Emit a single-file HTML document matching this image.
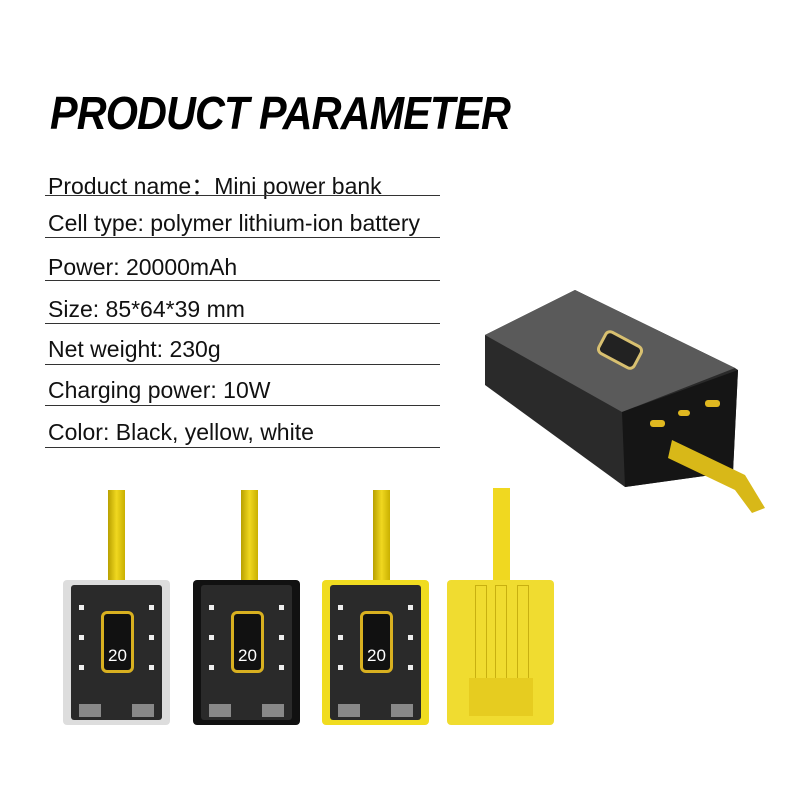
<!DOCTYPE html>
<html><head><style>
body{margin:0;width:800px;height:800px;background:#fff;position:relative;overflow:hidden;font-family:"Liberation Sans",sans-serif}
.t{position:absolute;left:50px;top:86px;font-size:46px;font-weight:bold;font-style:italic;letter-spacing:-1px;transform:scaleX(0.9);transform-origin:left}
.r{position:absolute;left:48px;font-size:23px;color:#111}
.l{position:absolute;left:45px;width:395px;height:1px;background:#333}
.s{position:absolute;width:17px;background:linear-gradient(90deg,#b8a000,#f0d820,#c9b000)}
.b{position:absolute;width:107px;height:145px;border-radius:4px}
.pcb{position:absolute;left:8px;top:5px;right:8px;bottom:5px;background:#2a2a2a;border-radius:3px}
.scr{position:absolute;left:30px;top:26px;width:27px;height:56px;border:3px solid #d8b020;border-radius:6px;background:#111;color:#fff;font-size:17px;text-align:center;line-height:84px}
.usb{position:absolute;bottom:3px;width:22px;height:13px;background:#888}
.d{position:absolute;width:5px;height:5px;background:#eee}
</style></head><body>
<div class="t">PRODUCT PARAMETER</div>
<div class="r" style="top:167px">Product name：Mini power bank</div><div class="l" style="top:195px"></div>
<div class="r" style="top:210px">Cell type: polymer lithium-ion battery</div><div class="l" style="top:237px"></div>
<div class="r" style="top:254px">Power: 20000mAh</div><div class="l" style="top:280px"></div>
<div class="r" style="top:296px">Size: 85*64*39 mm</div><div class="l" style="top:323px"></div>
<div class="r" style="top:336px">Net weight: 230g</div><div class="l" style="top:364px"></div>
<div class="r" style="top:377px">Charging power: 10W</div><div class="l" style="top:405px"></div>
<div class="r" style="top:419px">Color: Black, yellow, white</div><div class="l" style="top:447px"></div>

<svg style="position:absolute;left:0;top:0" width="800" height="800">
<polygon points="485,335 575,290 735,368 738,370 733,472 625,487 485,385" fill="#2a2a2a"/>
<polygon points="485,335 575,290 735,368 622,412" fill="#5a5a5a"/>
<polygon points="622,412 738,370 733,472 625,487" fill="#151515"/>
<rect x="600" y="338" width="40" height="24" rx="5" fill="#222" stroke="#d8c070" stroke-width="3" transform="rotate(28 620 350)"/>
<rect x="650" y="420" width="15" height="7" rx="3" fill="#e0b820"/>
<rect x="705" y="400" width="15" height="7" rx="3" fill="#e0b820"/>
<rect x="678" y="410" width="12" height="6" rx="3" fill="#e0b820"/>
<path d="M672,440 L745,475 L765,508 L752,513 L735,490 L668,458 Z" fill="#d8b818"/>
</svg>

<div class="s" style="left:108px;top:490px;height:92px"></div>
<div class="s" style="left:241px;top:490px;height:92px"></div>
<div class="s" style="left:373px;top:490px;height:92px"></div>
<div class="s" style="left:493px;top:488px;height:95px;background:#f0d820"></div>

<div class="b" style="left:63px;top:580px;background:#ddd"><div class="pcb"><div class="scr">20</div><div class="d" style="left:8px;top:20px"></div><div class="d" style="left:8px;top:50px"></div><div class="d" style="left:8px;top:80px"></div><div class="d" style="right:8px;top:20px"></div><div class="d" style="right:8px;top:50px"></div><div class="d" style="right:8px;top:80px"></div><div class="usb" style="left:8px"></div><div class="usb" style="right:8px"></div></div></div>
<div class="b" style="left:193px;top:580px;background:#111"><div class="pcb"><div class="scr">20</div><div class="d" style="left:8px;top:20px"></div><div class="d" style="left:8px;top:50px"></div><div class="d" style="left:8px;top:80px"></div><div class="d" style="right:8px;top:20px"></div><div class="d" style="right:8px;top:50px"></div><div class="d" style="right:8px;top:80px"></div><div class="usb" style="left:8px"></div><div class="usb" style="right:8px"></div></div></div>
<div class="b" style="left:322px;top:580px;background:#f0dc20"><div class="pcb"><div class="scr">20</div><div class="d" style="left:8px;top:20px"></div><div class="d" style="left:8px;top:50px"></div><div class="d" style="left:8px;top:80px"></div><div class="d" style="right:8px;top:20px"></div><div class="d" style="right:8px;top:50px"></div><div class="d" style="right:8px;top:80px"></div><div class="usb" style="left:8px"></div><div class="usb" style="right:8px"></div></div></div>
<div class="b" style="left:447px;top:580px;background:#f0dc30">
<div style="position:absolute;left:28px;top:5px;width:10px;height:95px;border:1px solid #c8b010"></div>
<div style="position:absolute;left:48px;top:5px;width:10px;height:95px;border:1px solid #c8b010"></div>
<div style="position:absolute;left:70px;top:5px;width:10px;height:95px;border:1px solid #c8b010"></div>
<div style="position:absolute;left:22px;top:98px;width:64px;height:38px;background:#e6cc20"></div>
</div>
</body></html>
